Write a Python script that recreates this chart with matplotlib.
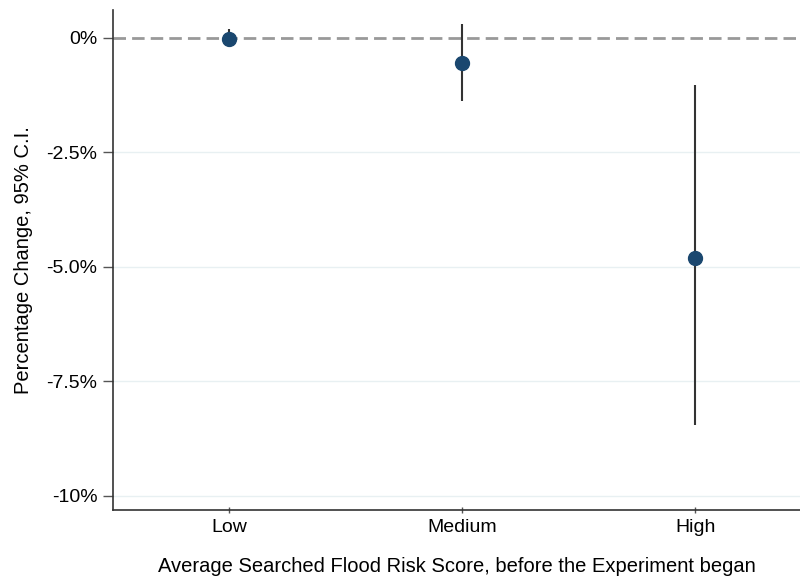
import matplotlib
matplotlib.use("Agg")
import matplotlib.pyplot as plt

groups = ["Low", "Medium", "High"]
estimate = [-0.02, -0.54, -4.80]
ci_low = [-0.20, -1.37, -8.45]
ci_high = [0.20, 0.31, -1.03]
yticks = [0, -2.5, -5.0, -7.5, -10]
ytick_labels = ["0%", "-2.5%", "-5.0%", "-7.5%", "-10%"]

plt.rcParams['font.family'] = ['Liberation Sans', 'DejaVu Sans']

fig = plt.figure(figsize=(8, 5.8), dpi=100)
ax = fig.add_axes([0.141, 0.121, 0.859, 0.862])

xs = list(range(1, len(groups) + 1))
for y in yticks[1:]:
    ax.axhline(y, color='#e8f0f2', lw=1.0, zorder=0)
ax.axhline(0, color='#999999', lw=2.0, ls=(0, (4.5, 2.2)), zorder=1)

ax.vlines(xs, ci_low, ci_high, color='#333333', lw=1.5, zorder=2)
ax.plot(xs, estimate, 'o', color='#1a476f', markersize=10, zorder=3, lw=0)

ax.set_xlim(0.5, 3.45)
ax.set_ylim(-10.31, 0.61)
ax.set_xticks(xs)
ax.set_xticklabels(groups, fontsize=14)
ax.set_yticks(yticks)
ax.set_yticklabels(ytick_labels, fontsize=14)
ax.tick_params(axis='y', direction='out', length=7, width=1.0, color='#555555', pad=4)
ax.tick_params(axis='x', direction='inout', length=5, width=1.0, color='#555555', pad=4)
ax.spines['top'].set_visible(False)
ax.spines['right'].set_visible(False)
for s in ['left', 'bottom']:
    ax.spines[s].set_linewidth(1.2)
    ax.spines[s].set_color('#333333')

ax.set_ylabel('Percentage Change, 95% C.I.', fontsize=14.5, labelpad=10)
ax.set_xlabel('Average Searched Flood Risk Score, before the Experiment began', fontsize=14.5, labelpad=15)

fig.savefig('out.png', dpi=100)
